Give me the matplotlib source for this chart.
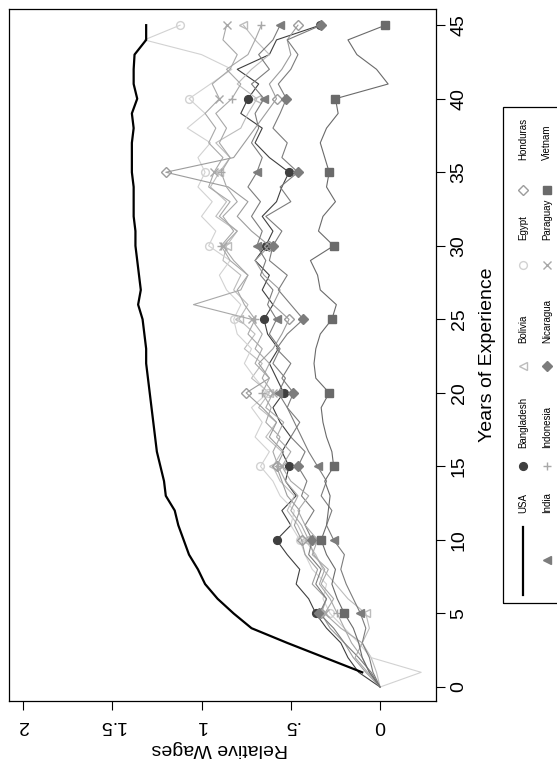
import numpy as np
import matplotlib
matplotlib.use("Agg")
import matplotlib.pyplot as plt
from matplotlib.lines import Line2D
from matplotlib.patches import Rectangle

plt.rcParams["font.family"] = ["Liberation Sans", "DejaVu Sans"]

# ============== Données : salaire relatif par année d'expérience ===================
years = list(range(46))
marker_years = list(range(5, 46, 5))

usa = [np.nan, 0.10, 0.31, 0.52, 0.72, 0.82, 0.91, 0.98, 1.02, 1.07, 1.10, 1.13, 1.15, 1.20,
       1.21, 1.23, 1.25, 1.26, 1.27, 1.28, 1.29, 1.30, 1.31, 1.31, 1.32, 1.33, 1.355, 1.34,
       1.35, 1.36, 1.37, 1.37, 1.38, 1.38, 1.38, 1.39, 1.39, 1.39, 1.38, 1.39, 1.36, 1.38,
       1.38, 1.375, 1.31, 1.31]
bangladesh = [0, 0.12, 0.18, 0.22, 0.30, 0.36, 0.40, 0.47, 0.45, 0.52, 0.58, 0.50, 0.55, 0.47,
              0.53, 0.51, 0.55, 0.50, 0.56, 0.60, 0.54, 0.58, 0.62, 0.57, 0.63, 0.65, 0.60, 0.66,
              0.62, 0.70, 0.64, 0.60, 0.66, 0.58, 0.55, 0.51, 0.62, 0.70, 0.66, 0.78, 0.74, 0.68,
              0.80, 0.62, 0.58, 0.335]
bolivia = [0, 0.02, 0.05, 0.10, 0.06, 0.08, 0.18, 0.25, 0.32, 0.36, 0.42, 0.46, 0.52, 0.48,
           0.56, 0.60, 0.55, 0.64, 0.58, 0.68, 0.62, 0.72, 0.66, 0.76, 0.70, 0.79, 0.74, 0.82,
           0.78, 0.88, 0.86, 0.80, 0.92, 0.86, 0.95, 0.90, 0.84, 0.92, 0.78, 0.74, 0.69, 0.80,
           0.72, 0.62, 0.70, 0.765]
egypt = [0, -0.23, 0.05, 0.12, 0.20, 0.28, 0.32, 0.30, 0.38, 0.42, 0.45, 0.50, 0.48, 0.56,
         0.60, 0.67, 0.62, 0.70, 0.66, 0.72, 0.63, 0.70, 0.76, 0.72, 0.80, 0.82, 0.78, 0.86,
         0.90, 0.84, 0.96, 0.92, 1.00, 0.94, 1.02, 0.98, 1.02, 0.95, 1.08, 0.98, 1.07, 0.95,
         0.83, 1.00, 1.32, 1.12]
honduras = [0, 0.08, 0.15, 0.20, 0.28, 0.33, 0.30, 0.38, 0.35, 0.42, 0.44, 0.48, 0.45, 0.52,
            0.55, 0.58, 0.54, 0.62, 0.58, 0.66, 0.75, 0.62, 0.68, 0.60, 0.55, 0.51, 0.60, 0.56,
            0.65, 0.70, 0.62, 0.72, 0.80, 0.74, 0.85, 1.20, 0.82, 0.76, 0.70, 0.64, 0.58, 0.62,
            0.55, 0.50, 0.52, 0.46]
india = [0, 0.04, 0.06, 0.10, 0.08, 0.11, 0.15, 0.19, 0.22, 0.20, 0.26, 0.30, 0.27, 0.33,
         0.30, 0.35, 0.40, 0.44, 0.48, 0.52, 0.57, 0.53, 0.60, 0.56, 0.62, 0.58, 0.63, 0.60,
         0.67, 0.64, 0.69, 0.66, 0.72, 0.67, 0.74, 0.69, 0.66, 0.72, 0.68, 0.70, 0.65, 0.72,
         0.62, 0.68, 0.60, 0.56]
indonesia = [0, 0.06, 0.10, 0.16, 0.20, 0.24, 0.28, 0.34, 0.31, 0.37, 0.40, 0.44, 0.50, 0.46,
             0.53, 0.57, 0.60, 0.56, 0.64, 0.61, 0.66, 0.62, 0.70, 0.66, 0.74, 0.70, 0.76, 0.80,
             0.74, 0.84, 0.89, 0.82, 0.88, 0.80, 0.86, 0.89, 0.84, 0.90, 0.86, 0.92, 0.83, 0.78,
             0.86, 0.74, 0.70, 0.665]
nicaragua = [0, 0.05, 0.12, 0.20, 0.26, 0.34, 0.30, 0.36, 0.33, 0.40, 0.38, 0.42, 0.37, 0.44,
             0.41, 0.46, 0.42, 0.50, 0.45, 0.52, 0.485, 0.55, 0.50, 0.58, 0.52, 0.43, 0.50, 0.57,
             0.52, 0.62, 0.60, 0.55, 0.64, 0.50, 0.56, 0.46, 0.55, 0.52, 0.60, 0.56, 0.525, 0.57,
             0.50, 0.46, 0.52, 0.33]
paraguay = [0, 0.07, 0.14, 0.10, 0.22, 0.31, 0.26, 0.33, 0.29, 0.38, 0.35, 0.42, 0.46, 0.40,
            0.50, 0.55, 0.50, 0.58, 0.54, 0.64, 0.60, 0.66, 0.62, 0.70, 0.66, 0.72, 1.045, 0.78,
            0.74, 0.82, 0.88, 0.80, 0.90, 0.84, 0.96, 0.93, 0.88, 0.96, 0.92, 0.98, 0.90, 0.94,
            0.84, 0.80, 0.88, 0.86]
vietnam = [0, 0.06, 0.10, 0.12, 0.15, 0.20, 0.24, 0.27, 0.25, 0.30, 0.33, 0.30, 0.29, 0.28,
           0.31, 0.26, 0.27, 0.30, 0.32, 0.33, 0.285, 0.36, 0.37, 0.36, 0.335, 0.27, 0.245, 0.335,
           0.35, 0.39, 0.26, 0.345, 0.32, 0.25, 0.30, 0.285, 0.31, 0.335, 0.30, 0.235, 0.25, -0.045,
           0.02, 0.13, 0.18, -0.03]

# nom, valeurs, gris, marqueur, plein ?
series = [
    ("Bangladesh", bangladesh, "#3f3f3f", "o", True),
    ("Bolivia", bolivia, "#bcbcbc", "<", False),
    ("Egypt", egypt, "#d2d2d2", "o", False),
    ("Honduras", honduras, "#9c9c9c", "D", False),
    ("India", india, "#7c7c7c", "<", True),
    ("Indonesia", indonesia, "#a8a8a8", "+", True),
    ("Nicaragua", nicaragua, "#7c7c7c", "D", True),
    ("Paraguay", paraguay, "#a8a8a8", "x", True),
    ("Vietnam", vietnam, "#6a6a6a", "s", True),
]

wage_ticks = [0, 0.5, 1, 1.5, 2]
wage_labels = ["0", ".5", "1", "1.5", "2"]
year_ticks = list(range(0, 46, 5))

# ============== Figure (graphique tourné de 90°) ===================
W, H = 557, 763
fig = plt.figure(figsize=(W / 100, H / 100), dpi=100)


def fx(px):
    return px / W


def fy(py):
    return 1 - py / H


ax = fig.add_axes([fx(9), fy(701), (436 - 9) / W, (701 - 9) / H])


def marker_style(color, marker, filled):
    size = 4.6 if marker == "D" else 5.6
    return dict(marker=marker, ms=size, mec=color, mew=1.0,
                mfc=color if filled else "none")


for name, vals, color, marker, filled in series:
    ax.plot(vals, years, color=color, lw=0.8, markevery=marker_years,
            **marker_style(color, marker, filled))
ax.plot(usa, years, color="black", lw=1.6, zorder=5)

ax.set_xlim(2.078, -0.313)
ax.set_ylim(-0.95, 46.1)
ax.set_xticks(wage_ticks)
ax.set_xticklabels(wage_labels, rotation=180, fontsize=14)
ax.yaxis.tick_right()
ax.set_yticks(year_ticks)
ax.set_yticklabels([str(t) for t in year_ticks], rotation=90, va="center", fontsize=14)
ax.tick_params(length=6.5, width=0.8, color="black")
ax.tick_params(axis="x", pad=5)
ax.tick_params(axis="y", pad=4)
for s in ax.spines.values():
    s.set_linewidth(0.9)

fig.text(fx(220), fy(748), "Relative Wages", rotation=180, fontsize=14,
         ha="center", va="center")
fig.text(fx(487), fy(355), "Years of Experience", rotation=90, fontsize=14,
         ha="center", va="center")

# ============== Légende (2 rangées, tournée) ===================
fig.patches.append(Rectangle((fx(503), fy(603)), 70 / W, 496 / H, transform=fig.transFigure,
                             fill=False, lw=0.9, ec="black", clip_on=False))

row_x = [523, 547]
key_y = [560, 466, 366, 265, 190]
text_y = [513, 448, 343, 240, 160]
entries = [("USA", None)] + series
for i, entry in enumerate(entries):
    row, col = i // 5, i % 5
    x = fx(row_x[row])
    if entry[1] is None:
        fig.add_artist(Line2D([x, x], [fy(595), fy(527)], color="black", lw=1.6,
                              transform=fig.transFigure))
        label = entry[0]
    else:
        name, vals, color, marker, filled = entry
        fig.add_artist(Line2D([x], [fy(key_y[col])], linestyle="none",
                              transform=fig.transFigure,
                              **marker_style(color, marker, filled)))
        label = name
    fig.text(x, fy(text_y[col]), label, rotation=90, fontsize=7,
             ha="center", va="bottom")

fig.savefig("out.png", dpi=100)
